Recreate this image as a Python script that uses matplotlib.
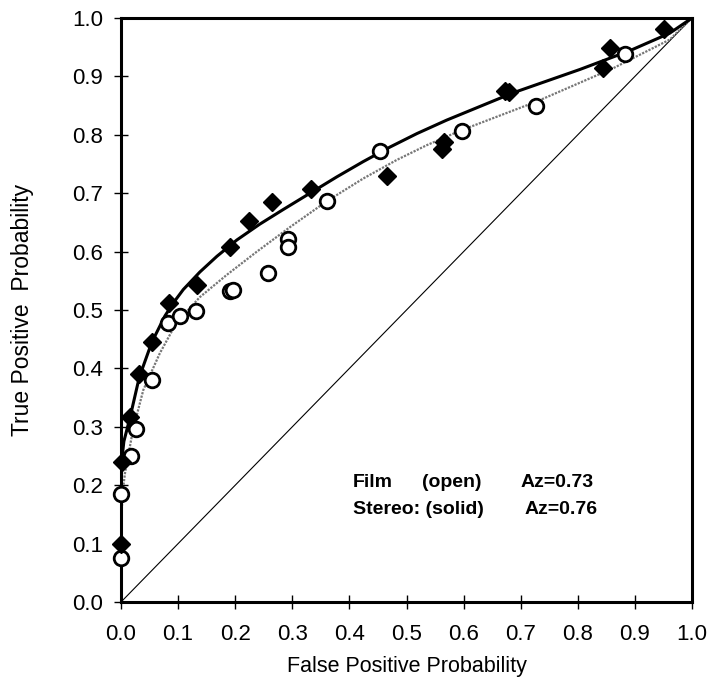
import numpy as np
import matplotlib.pyplot as plt

plt.rcParams['font.family'] = ['Liberation Sans', 'DejaVu Sans']

# Stereo (solid diamonds) observed operating points
stereo_fp = [0.0, 0.002, 0.016, 0.031, 0.054, 0.084, 0.133, 0.191, 0.225, 0.264,
             0.333, 0.466, 0.562, 0.565, 0.672, 0.679, 0.845, 0.857, 0.951]
stereo_tp = [0.10, 0.24, 0.317, 0.39, 0.445, 0.512, 0.543, 0.608, 0.652, 0.685,
             0.707, 0.73, 0.775, 0.787, 0.875, 0.873, 0.915, 0.949, 0.981]

# Film (open circles) observed operating points
film_fp = [0.0, 0.0, 0.018, 0.027, 0.054, 0.083, 0.103, 0.132, 0.19, 0.196,
           0.258, 0.292, 0.292, 0.36, 0.454, 0.598, 0.727, 0.883]
film_tp = [0.075, 0.185, 0.25, 0.296, 0.38, 0.478, 0.49, 0.499, 0.533, 0.535,
           0.564, 0.621, 0.608, 0.686, 0.773, 0.807, 0.85, 0.938]

# fitted curves
stereo_fit_x = [0.0, 0.0, 0.001, 0.005, 0.016, 0.032, 0.054, 0.077, 0.093, 0.109,
                0.138, 0.168, 0.203, 0.243, 0.284, 0.331, 0.378, 0.424, 0.471,
                0.518, 0.57, 0.687, 0.804, 0.891, 0.961, 1.0]
stereo_fit_y = [0.0, 0.12, 0.24, 0.275, 0.317, 0.385, 0.445, 0.49, 0.514, 0.535,
                0.565, 0.592, 0.62, 0.647, 0.672, 0.7, 0.728, 0.754, 0.779,
                0.802, 0.825, 0.872, 0.912, 0.944, 0.974, 1.0]
film_fit_x = [0.0, 0.001, 0.003, 0.007, 0.021, 0.039, 0.068, 0.097, 0.138, 0.185,
              0.238, 0.296, 0.36, 0.424, 0.483, 0.535, 0.594, 0.728, 0.862, 0.961, 1.0]
film_fit_y = [0.0, 0.15, 0.19, 0.221, 0.295, 0.363, 0.426, 0.478, 0.522, 0.56,
              0.6, 0.642, 0.686, 0.725, 0.757, 0.782, 0.807, 0.857, 0.914, 0.963, 1.0]

ticks = np.arange(0, 1.01, 0.1)
tick_labels = ['%.1f' % t for t in ticks]

fig = plt.figure(figsize=(7.09, 6.82), dpi=100)
ax = fig.add_axes([0.1707, 0.1173, 0.8053, 0.8563])

# chance line
ax.plot([0, 1], [0, 1], color='black', lw=0.8)

ax.plot(film_fit_x, film_fit_y, color='#777777', lw=1.6, ls=(0, (1, 0.6)))
ax.plot(stereo_fit_x, stereo_fit_y, color='black', lw=2.2)

ax.plot(film_fp, film_tp, 'o', ms=10.5, mfc='white', mec='black', mew=2.0,
        ls='none', clip_on=False, zorder=4)
ax.plot(stereo_fp, stereo_tp, 'D', ms=9, mfc='black', mec='black',
        ls='none', clip_on=False, zorder=5)

ax.set_xlim(0, 1)
ax.set_ylim(0, 1)
ax.set_xticks(ticks)
ax.set_yticks(ticks)
ax.set_xticklabels(tick_labels)
ax.set_yticklabels(tick_labels)
ax.tick_params(direction='inout', length=10, width=1, labelsize=16)
ax.tick_params(axis='x', pad=11)
ax.tick_params(axis='y', pad=8)
for s in ax.spines.values():
    s.set_linewidth(2.2)

ax.set_xlabel('False Positive Probability', fontsize=15.5, va='center')
ax.set_ylabel('True Positive  Probability', fontsize=16.5, va='center')
ax.xaxis.set_label_coords(0.5, -0.111)
ax.yaxis.set_label_coords(-0.173, 0.5)

# key text
kw = dict(fontsize=14, fontweight='bold', va='center', transform=ax.transAxes)
ax.text(0.406, 0.205, 'Film', **kw)
ax.text(0.527, 0.205, '(open)', **kw)
ax.text(0.699, 0.205, 'Az=0.73', **kw)
ax.text(0.406, 0.158, 'Stereo: (solid)', **kw)
ax.text(0.706, 0.158, 'Az=0.76', **kw)

fig.savefig('out.png', dpi=100)
